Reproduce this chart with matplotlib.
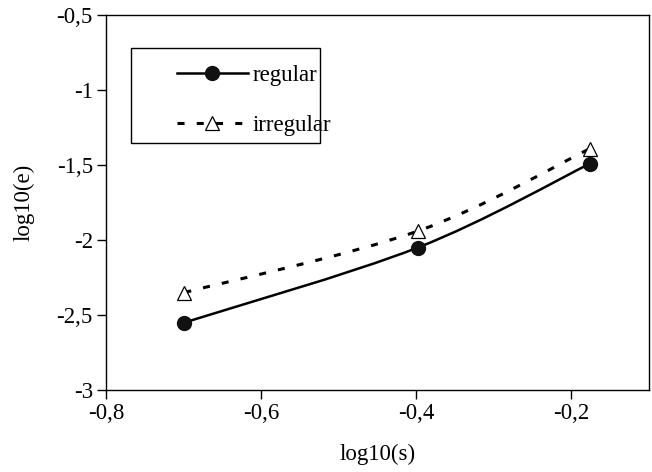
import numpy as np
import matplotlib
matplotlib.use("Agg")
import matplotlib.pyplot as plt
from matplotlib.path import Path
from matplotlib.patches import PathPatch, Rectangle
from matplotlib.lines import Line2D

# Data
x_vals = [-0.699, -0.398, -0.176]
regular = [-2.55, -2.05, -1.49]
irregular = [-2.35, -1.94, -1.39]
series_names = ["regular", "irregular"]
x_ticks = [-0.8, -0.6, -0.4, -0.2]
x_ticklabels = ["-0,8", "-0,6", "-0,4", "-0,2"]
y_ticks = [-3, -2.5, -2, -1.5, -1, -0.5]
y_ticklabels = ["-3", "-2,5", "-2", "-1,5", "-1", "-0,5"]

plt.rcParams['font.family'] = ['Liberation Serif', 'DejaVu Serif']
FS = 16.5

fig = plt.figure(figsize=(6.52, 4.72), dpi=100)
ax = fig.add_axes([0.1626, 0.1737, 0.8328, 0.7943])


def smooth_path(xs, ys):
    # Excel-like smoothed line: cubic Bezier with Catmull-Rom control points
    pts = np.column_stack([xs, ys])
    n = len(pts)
    verts = [tuple(pts[0])]
    codes = [Path.MOVETO]
    for i in range(n - 1):
        p0 = pts[i - 1] if i > 0 else pts[i]
        p1 = pts[i]
        p2 = pts[i + 1]
        p3 = pts[i + 2] if i + 2 < n else pts[i + 1]
        c1 = p1 + (p2 - p0) / 6.0
        c2 = p2 - (p3 - p1) / 6.0
        verts += [tuple(c1), tuple(c2), tuple(p2)]
        codes += [Path.CURVE4] * 3
    return Path(verts, codes)


reg_lw = 1.8
irr_lw = 2.2
irr_ls = (0, (2.3, 4.0))

ax.add_patch(PathPatch(smooth_path(x_vals, regular), facecolor='none',
                       edgecolor='black', lw=reg_lw, zorder=2))
ax.add_patch(PathPatch(smooth_path(x_vals, irregular), facecolor='none',
                       edgecolor='black', lw=irr_lw, linestyle=irr_ls, zorder=2))

ax.plot(x_vals, regular, ls='none', marker='o', ms=10, mfc='#111111',
        mec='#111111', zorder=3)
ax.plot(x_vals, irregular, ls='none', marker='^', ms=10, mfc='white',
        mec='black', mew=0.9, zorder=3)

ax.set_xlim(-0.8, -0.1)
ax.set_ylim(-3, -0.5)
ax.set_xticks(x_ticks)
ax.set_xticklabels(x_ticklabels, fontsize=FS)
ax.set_yticks(y_ticks)
ax.set_yticklabels(y_ticklabels, fontsize=FS)
ax.tick_params(direction='out', length=6.5, width=1, colors='black', pad=3)
for s in ax.spines.values():
    s.set_linewidth(1.0)
    s.set_color('black')

ax.set_xlabel("log10(s)", fontsize=FS, labelpad=14)
ax.set_ylabel("log10(e)", fontsize=FS, labelpad=16)

# legend frame
ax.add_patch(Rectangle((0.046, 0.659), 0.348, 0.253, transform=ax.transAxes,
                       facecolor='white', edgecolor='black', lw=1.0, zorder=4))

handles = [
    Line2D([], [], color='black', lw=reg_lw, marker='o', ms=10,
           mfc='#111111', mec='#111111'),
    Line2D([], [], color='black', lw=irr_lw, ls=irr_ls, marker='^', ms=10,
           mfc='white', mec='black', mew=0.9),
]
leg = ax.legend(handles, series_names, loc='center left',
                bbox_to_anchor=(0.13, 0.773), borderaxespad=0,
                fontsize=FS, frameon=False, handlelength=3.1,
                handletextpad=0.2, borderpad=0.0, labelspacing=1.25)
leg.set_zorder(5)

fig.savefig("out.png", dpi=100, facecolor='white')
